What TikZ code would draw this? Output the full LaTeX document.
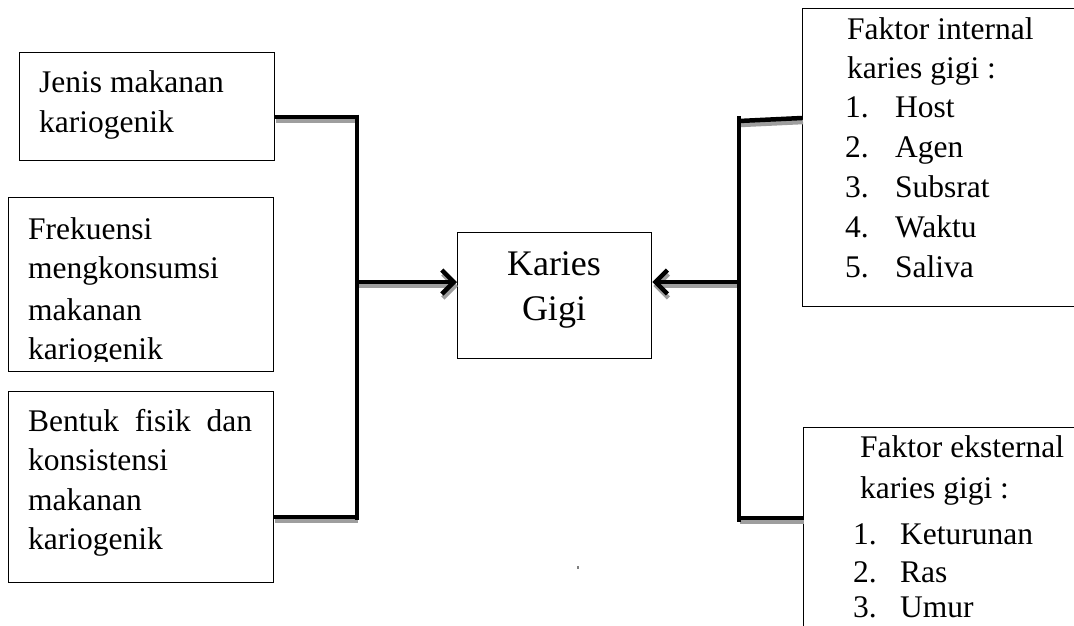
\documentclass[tikz,border=0pt]{standalone}
\usepackage{fontspec}
\setmainfont{Liberation Serif}
\usetikzlibrary{arrows.meta}
\begin{document}
\begin{tikzpicture}[x=1pt,y=-1pt,
  box/.style={draw=black, line width=1.3pt, inner sep=0pt, anchor=north west},
  txt/.style={anchor=base west, inner sep=0pt, font=\fontsize{31.5}{40}\selectfont},
  bigtxt/.style={anchor=base, inner sep=0pt, font=\fontsize{36}{45}\selectfont},
  conn/.style={line width=4.5pt, black},
  shad/.style={line width=4.5pt, black!38},
  tip/.style={-{Straight Barb[length=12pt,width=24pt]}}]
\useasboundingbox (0,0) rectangle (1074,625);
\clip (0,0) rectangle (1074,625);
\fill[white] (0,0) rectangle (1074,625);

% boxes
\node[box, minimum width=255pt, minimum height=108pt] (b1) at (19,52) {};
\node[box, minimum width=265pt, minimum height=174pt] (b2) at (8,197) {};
\node[box, minimum width=265pt, minimum height=191pt] (b3) at (8,391) {};
\node[box, minimum width=194pt, minimum height=126pt] (kg) at (457,232) {};
\node[box, minimum width=300pt, minimum height=298pt] (fi) at (802,8) {};
\node[box, minimum width=300pt, minimum height=260pt] (fe) at (803,427) {};

% texts
\node[txt] (t11) at (39,92) {Jenis makanan};
\node[txt] (t12) at (39,132) {kariogenik};
\begin{scope}
\clip (0,0) rectangle (1074,361);
\node[txt] (t21) at (28,239) {Frekuensi};
\node[txt] (t22) at (28,278) {mengkonsumsi};
\node[txt] (t23) at (28,320) {makanan};
\node[txt] (t24) at (28,359) {kariogenik};
\end{scope}
\node[txt] (t31) at (28,431) {\hbox to 224pt{Bentuk\hfill fisik\hfill dan}};
\node[txt] (t32) at (28,470) {konsistensi};
\node[txt] (t33) at (28,510) {makanan};
\node[txt] (t34) at (28,549) {kariogenik};

\node[bigtxt] (k1) at (554,275) {Karies};
\node[bigtxt] (k2) at (554,320) {Gigi};

\node[txt] (i0) at (847,39) {Faktor internal};
\node[txt] (i1) at (847,78) {karies gigi :};
\node[txt] (n1) at (845,117) {1.}; \node[txt] (m1) at (895,117) {Host};
\node[txt] (n2) at (845,157) {2.}; \node[txt] (m2) at (895,157) {Agen};
\node[txt] (n3) at (845,197) {3.}; \node[txt] (m3) at (895,197) {Subsrat};
\node[txt] (n4) at (845,237) {4.}; \node[txt] (m4) at (895,237) {Waktu};
\node[txt] (n5) at (845,277) {5.}; \node[txt] (m5) at (895,277) {Saliva};

\node[txt] (e0) at (860,457) {Faktor eksternal};
\node[txt] (e1) at (860,498) {karies gigi :};
\node[txt] (p1) at (853,544) {1.}; \node[txt] (q1) at (900,544) {Keturunan};
\node[txt] (p2) at (853,582) {2.}; \node[txt] (q2) at (900,582) {Ras};
\node[txt] (p3) at (853,617) {3.}; \node[txt] (q3) at (900,617) {Umur};

% junction points
\coordinate (lt) at (357,117);
\coordinate (lm) at (357,282);
\coordinate (lb) at (357,517);
\coordinate (rt) at (739,121);
\coordinate (rm) at (739,282);
\coordinate (rb) at (739,518);

% shadows
\begin{scope}[transform canvas={shift={(1pt,-4pt)}}]
\draw[shad] (b1.east |- lt) -- (lt);
\draw[shad] (b3.east |- lb) -- (lb);
\draw[shad, tip] (lm) -- (kg.west |- lm);
\draw[shad] (rt) -- ([yshift=3pt]fi.west |- rt);
\draw[shad] (rb) -- (fe.west |- rb);
\draw[shad, tip] (rm) -- (kg.east |- rm);
\end{scope}

% connectors
\draw[conn] ([yshift=2.5pt]lt) -- ([yshift=-2.5pt]lb);
\draw[conn] (b1.east |- lt) -- (lt);
\draw[conn] (b3.east |- lb) -- (lb);
\draw[conn, tip] (lm) -- (kg.west |- lm);
\draw[conn] ([yshift=5pt]rt) -- ([yshift=-4pt]rb);
\draw[conn] (rt) -- ([yshift=3pt]fi.west |- rt);
\draw[conn] (rb) -- (fe.west |- rb);
\draw[conn, tip] (rm) -- (kg.east |- rm);

% small mark
\fill[black!50] (577,566) rectangle (579,569);
\end{tikzpicture}
\end{document}
